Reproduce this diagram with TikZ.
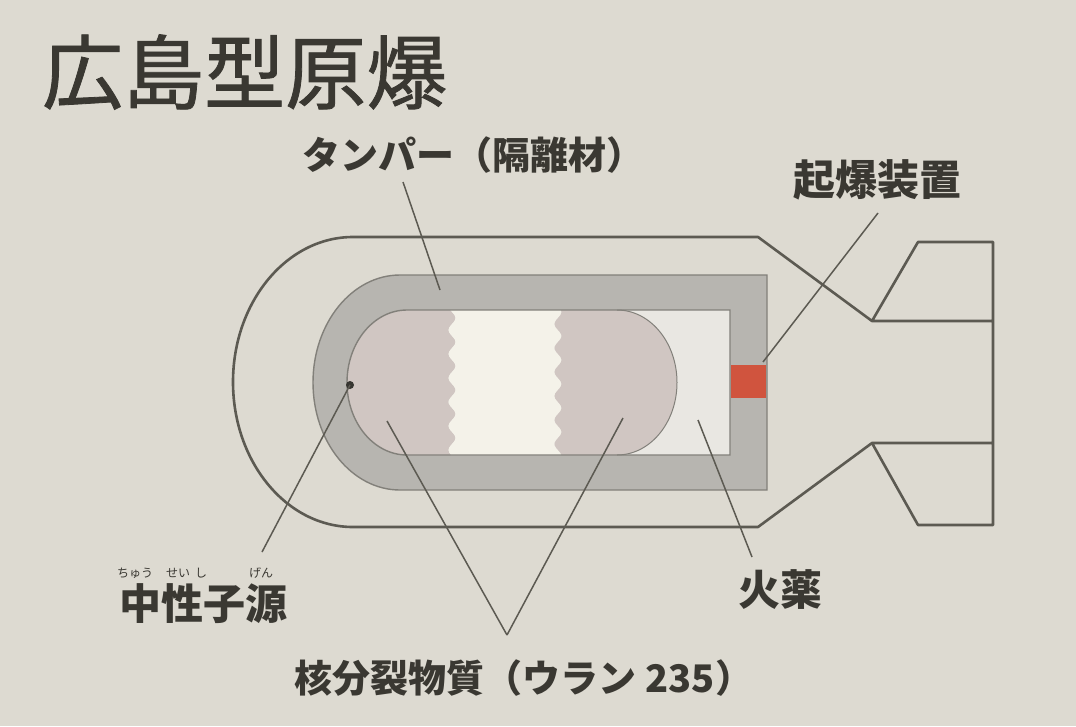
\documentclass[tikz,border=0pt]{standalone}
\usepackage{fontspec}
\newfontfamily\jp{Noto Sans CJK JP}
\usetikzlibrary{positioning}

\definecolor{paper}{RGB}{221,218,209}
\definecolor{ink}{RGB}{58,56,50}
\definecolor{casing}{RGB}{92,90,82}
\definecolor{tampergray}{RGB}{183,181,176}
\definecolor{tamperedge}{RGB}{130,128,122}
\definecolor{uranium}{RGB}{208,198,194}
\definecolor{gapwhite}{RGB}{244,242,233}
\definecolor{powder}{RGB}{233,231,226}
\definecolor{fuse}{RGB}{208,84,62}

\begin{document}
\begin{tikzpicture}[x=1pt,y=-1pt,
  casing/.style={draw=casing,line width=2.6pt,line join=round},
  edgeline/.style={draw=tamperedge,line width=1.4pt},
  leader/.style={draw=casing,line width=1.5pt},
  lbl/.style={text=ink,inner sep=0pt,font=\jp\bfseries\fontsize{40}{44}\selectfont},
  ruby/.style={text=ink,inner sep=0pt,font=\jp\fontsize{12}{12}\selectfont}]
\useasboundingbox[fill=paper] (0,0) rectangle (1076,726);

\node[lbl,anchor=west,font=\jp\addfontfeatures{FakeBold=1}\fontsize{81}{84}\selectfont] (title) at (42,72) {広島型原爆};

% casing and tail fins
\draw[casing] (353,237) -- (758,237) -- (872,321) -- (993,321)
  (872,321) -- (918,242) -- (993,242) -- (993,525) -- (918,525) -- (872,443) -- (993,443)
  (872,443) -- (758,527) -- (353,527)
  arc[start angle=90,end angle=270,x radius=120,y radius=145];

% tamper and cavity
\fill[tampergray] (400,275) -- (767,275) -- (767,490) -- (400,490)
  arc[start angle=90,end angle=270,x radius=87,y radius=107.5] -- cycle;
\fill[powder] (407,310) -- (730,310) -- (730,455) -- (407,455)
  arc[start angle=90,end angle=270,x radius=60,y radius=72.5] -- cycle;

% uranium pieces
\fill[uranium] (452,310) -- (407,310)
  arc[start angle=270,end angle=90,x radius=60,y radius=72.5]
  -- plot[domain=455:310,samples=60] ({452+3.5*sin(\x*15)},\x) -- cycle;
\fill[gapwhite] plot[domain=310:455,samples=60] ({452+3.5*sin(\x*15)},\x)
  -- plot[domain=455:310,samples=60] ({558+3.5*sin(\x*15+90)},\x) -- cycle;
\fill[uranium] plot[domain=310:455,samples=60] ({558+3.5*sin(\x*15+90)},\x)
  -- (617,455) arc[start angle=90,end angle=-90,x radius=60,y radius=72.5] -- cycle;
\draw[edgeline,line width=1pt] (617,455) arc[start angle=90,end angle=-90,x radius=60,y radius=72.5];

\draw[edgeline] (400,275) -- (767,275) -- (767,490) -- (400,490)
  arc[start angle=90,end angle=270,x radius=87,y radius=107.5];
\draw[edgeline] (407,310) -- (730,310) -- (730,455) -- (407,455)
  arc[start angle=90,end angle=270,x radius=60,y radius=72.5];

\fill[fuse] (731,365) rectangle (766,398);
\fill[casing!60!black] (350,385) circle[radius=4];

% labels
\node[lbl,font=\jp\bfseries\fontsize{38}{40}\selectfont] (tamper) at (473,155) {タンパー（隔離材）};
\node[lbl,font=\jp\bfseries\fontsize{42}{44}\selectfont] (fuze) at (877,180) {起爆装置};
\node[lbl,font=\jp\bfseries\fontsize{42}{44}\selectfont] (source) at (203,604) {中性子源};
\node[ruby] (r1) at (135,573) {ちゅう};
\node[ruby] (r2) at (178,573) {せい};
\node[ruby] (r3) at (201,573) {し};
\node[ruby] (r4) at (261,573) {げん};
\node[lbl,font=\jp\bfseries\fontsize{42}{44}\selectfont] (powder) at (780,590) {火薬};
\node[lbl,font=\jp\bfseries\fontsize{38}{42}\selectfont] (fissile) at (524,678) {核分裂物質（ウラン 235）};

\coordinate (tamperfoot) at (403,182);
\coordinate (tamperpt) at (440,290);
\coordinate (fuzefoot) at (878,213);
\coordinate (fuzept) at (763,362);
\coordinate (sourcept) at (350,385);
\coordinate (sourcefoot) at (262,552);
\coordinate (leftpt) at (387,421);
\coordinate (rightpt) at (623,418);
\coordinate (fissapex) at (507,635);
\coordinate (powderpt) at (698,420);
\coordinate (powderfoot) at (752,557);

\path[leader]
(tamperfoot) edge (tamperpt)
(fuzefoot) edge (fuzept)
(sourcept) edge (sourcefoot)
(leftpt) edge (fissapex)
(rightpt) edge (fissapex)
(powderpt) edge (powderfoot)
; %end path
\end{tikzpicture}
\end{document}
